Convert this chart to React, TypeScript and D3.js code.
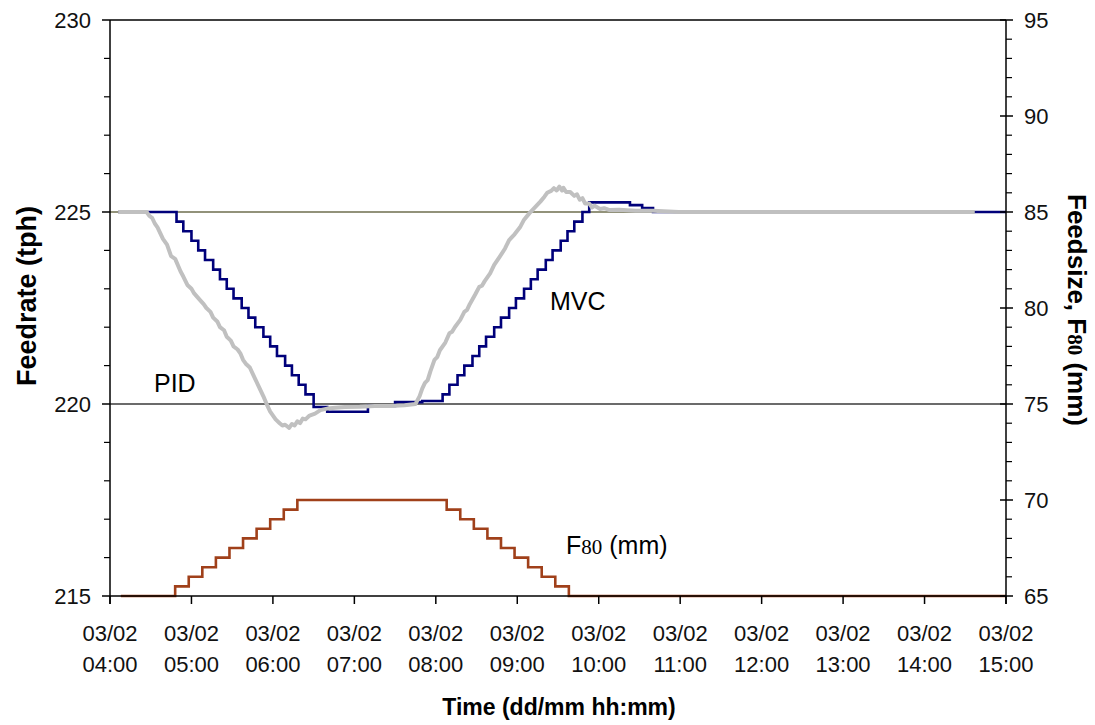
import React from 'react';
import * as d3 from 'd3';

const W = 1095;
const H = 725;
const PLOT = { left: 110, right: 1006, top: 20, bottom: 596 };

const DAY = '2000-02-03';

// x-axis ticks (hours, dd/mm hh:mm)
const xTickTimes = ['04:00', '05:00', '06:00', '07:00', '08:00', '09:00', '10:00', '11:00', '12:00', '13:00', '14:00', '15:00'];
const leftMajorTicks = [215, 220, 225, 230];
const leftMinorTicks = [216, 217, 218, 219, 221, 222, 223, 224, 226, 227, 228, 229];
const rightMajorTicks = [65, 70, 75, 80, 85, 90, 95];
const rightMinorTicks = [66, 67, 68, 69, 71, 72, 73, 74, 76, 77, 78, 79, 81, 82, 83, 84, 86, 87, 88, 89, 91, 92, 93, 94];
const gridValues = [220, 225];

// F80 feed size (mm), stepped
const f80Times = ['04:08', '04:48', '04:58', '05:08', '05:18', '05:28', '05:38', '05:48', '05:58', '06:08', '06:18',
  '08:08', '08:18', '08:28', '08:38', '08:48', '08:58', '09:08', '09:18', '09:28', '09:38', '15:00'];
const f80Values = [65, 65.5, 66, 66.5, 67, 67.5, 68, 68.5, 69, 69.5, 70,
  69.5, 69, 68.5, 68, 67.5, 67, 66.5, 66, 65.5, 65, 65];

// MVC feedrate (tph), stepped
const mvcTimes = ['04:06', '04:49', '04:54', '05:00', '05:05', '05:10', '05:16', '05:21', '05:26', '05:31', '05:37',
  '05:42', '05:47', '05:53', '05:58', '06:03', '06:09', '06:14', '06:19', '06:24', '06:30',
  '06:40', '07:10', '07:30', '07:50',
  '08:05', '08:10', '08:16', '08:21', '08:27', '08:32', '08:37', '08:43', '08:48', '08:54', '08:59',
  '09:05', '09:10', '09:15', '09:21', '09:26', '09:32', '09:37', '09:42', '09:48',
  '09:53', '10:23', '10:32', '10:40', '15:00'];
const mvcValues = [225, 224.75, 224.5, 224.25, 224, 223.75, 223.5, 223.25, 223, 222.75, 222.5,
  222.25, 222, 221.75, 221.5, 221.25, 221, 220.75, 220.5, 220.25, 219.92,
  219.8, 219.95, 220.05, 220.08,
  220.25, 220.5, 220.75, 221, 221.25, 221.5, 221.75, 222, 222.25, 222.5, 222.75,
  223, 223.25, 223.5, 223.75, 224, 224.25, 224.5, 224.75, 225,
  225.25, 225.18, 225.1, 225, 225];

// PID feedrate (tph)
const pidTimes = ['04:06', '04:27', '04:29', '04:31', '04:33', '04:35', '04:37', '04:39', '04:42', '04:45', '04:48', '04:52', '04:54',
  '04:57', '05:00', '05:02', '05:06', '05:09', '05:11', '05:14', '05:16', '05:19', '05:21', '05:24', '05:26', '05:29', '05:31',
  '05:34', '05:36', '05:38', '05:40', '05:43', '05:45', '05:47', '05:49',
  '05:53', '05:56', '05:58', '06:02', '06:05', '06:07', '06:09', '06:12', '06:14', '06:16', '06:18', '06:20', '06:22', '06:24', '06:27', '06:31',
  '06:35', '06:40', '06:46', '06:53', '07:04', '07:15', '07:26', '07:37', '07:45', '07:48', '07:50', '07:52', '07:54', '07:56',
  '07:59', '08:01', '08:03', '08:07', '08:10', '08:12', '08:14', '08:18', '08:21', '08:23', '08:25', '08:29', '08:32', '08:34', '08:36', '08:40',
  '08:43', '08:47', '08:51', '08:54', '08:58', '09:02', '09:05', '09:09', '09:13', '09:17', '09:20', '09:22',
  '09:25', '09:27', '09:29', '09:31', '09:33', '09:34', '09:36', '09:39', '09:42', '09:44', '09:46', '09:48', '09:50', '09:53', '09:55', '09:57', '10:01',
  '10:04', '10:08', '10:15', '10:27', '10:40', '10:59', '14:37'];
const pidValues = [225, 225, 224.9, 224.85, 224.7, 224.6, 224.45, 224.3, 224.15, 223.85, 223.78, 223.45, 223.32,
  223.1, 223.0, 222.88, 222.72, 222.6, 222.5, 222.4, 222.25, 222.15, 222.0, 221.92, 221.75, 221.65, 221.5,
  221.42, 221.32, 221.15, 221.05, 220.95, 220.8, 220.65, 220.5,
  220.2, 219.95, 219.8, 219.6, 219.5, 219.44, 219.46, 219.38, 219.48, 219.44, 219.55, 219.5, 219.62, 219.6, 219.7, 219.75,
  219.84, 219.88, 219.9, 219.92, 219.93, 219.95, 219.95, 219.97, 220.0, 220.2, 220.4, 220.55, 220.62, 220.85,
  221.15, 221.22, 221.4, 221.6, 221.84, 221.88, 222.0, 222.19, 222.4, 222.45, 222.6, 222.85, 223.05, 223.08, 223.2, 223.4,
  223.62, 223.83, 224.05, 224.27, 224.42, 224.6, 224.8, 224.97, 225.12, 225.27, 225.4, 225.5,
  225.55, 225.62, 225.56, 225.66, 225.56, 225.63, 225.52, 225.52, 225.42, 225.46, 225.32, 225.36, 225.22, 225.22, 225.12, 225.16, 225.08,
  225.1, 225.05, 225.06, 225.03, 225.03, 225.0, 225.0];

const parse = d3.timeParse('%Y-%m-%d %H:%M');
const t = (s: string) => parse(`${DAY} ${s}`) as Date;

const x = d3.scaleTime().domain([t('04:00'), t('15:00')]).range([PLOT.left, PLOT.right]);
const yL = d3.scaleLinear().domain([215, 230]).range([PLOT.bottom, PLOT.top]);
const yR = d3.scaleLinear().domain([65, 95]).range([PLOT.bottom, PLOT.top]);

const fmtDate = d3.timeFormat('%d/%m');
const fmtTime = d3.timeFormat('%H:%M');

type P = [Date, number];
const zip = (ts: string[], vs: number[]): P[] => ts.map((s, i) => [t(s), vs[i]]);

const stepL = d3.line<P>().x(d => x(d[0])).y(d => yL(d[1])).curve(d3.curveStepAfter);
const stepR = d3.line<P>().x(d => x(d[0])).y(d => yR(d[1])).curve(d3.curveStepAfter);
const lineL = d3.line<P>().x(d => x(d[0])).y(d => yL(d[1]));

const FONT = '"Liberation Sans", Arial, sans-serif';

export default function App() {
  const f80 = zip(f80Times, f80Values);
  const mvc = zip(mvcTimes, mvcValues);
  const pid = zip(pidTimes, pidValues);

  return (
    <svg width={W} height={H} style={{ position: 'absolute', left: 0, top: 0, background: '#fff' }} fontFamily={FONT}>
      <rect x={0} y={0} width={W} height={H} fill="#fff" />
      {/* gridlines */}
      {gridValues.map(v => (
        <line key={v} x1={PLOT.left} x2={PLOT.right} y1={yL(v)} y2={yL(v)}
          stroke={v === 225 ? '#6e6e4e' : '#3a3a3a'} strokeWidth={1.5} />
      ))}
      {/* top border */}
      <line x1={PLOT.left} x2={PLOT.right} y1={PLOT.top} y2={PLOT.top} stroke="#000" strokeWidth={1.5} />

      {/* series */}
      <path d={stepR(f80) || ''} fill="none" stroke="#a0401a" strokeWidth={2.6} />
      <path d={stepL(mvc) || ''} fill="none" stroke="#00007a" strokeWidth={2.6} />
      <path d={lineL(pid) || ''} fill="none" stroke="#c0c0c0" strokeWidth={4} strokeLinejoin="round" />

      {/* left axis */}
      <line x1={PLOT.left} x2={PLOT.left} y1={PLOT.top} y2={PLOT.bottom + 8} stroke="#000" strokeWidth={1.5} />
      {leftMajorTicks.map(v => (
        <g key={v}>
          <line x1={PLOT.left - 8} x2={PLOT.left} y1={yL(v)} y2={yL(v)} stroke="#000" strokeWidth={1.5} />
          <text x={PLOT.left - 19} y={yL(v)} dy="0.36em" textAnchor="end" fontSize={22} fill="#111">{v}</text>
        </g>
      ))}
      {leftMinorTicks.map(v => (
        <line key={v} x1={PLOT.left - 6} x2={PLOT.left} y1={yL(v)} y2={yL(v)} stroke="#000" strokeWidth={1.2} />
      ))}

      {/* right axis */}
      <line x1={PLOT.right} x2={PLOT.right} y1={PLOT.top} y2={PLOT.bottom + 8} stroke="#000" strokeWidth={1.5} />
      {rightMajorTicks.map(v => (
        <g key={v}>
          <line x1={PLOT.right - 6} x2={PLOT.right + 7} y1={yR(v)} y2={yR(v)} stroke="#000" strokeWidth={1.5} />
          <text x={PLOT.right + 18} y={yR(v)} dy="0.36em" textAnchor="start" fontSize={22} fill="#111">{v}</text>
        </g>
      ))}
      {rightMinorTicks.map(v => (
        <line key={v} x1={PLOT.right} x2={PLOT.right + 6} y1={yR(v)} y2={yR(v)} stroke="#000" strokeWidth={1.2} />
      ))}

      {/* bottom axis */}
      <line x1={PLOT.left} x2={PLOT.right} y1={PLOT.bottom} y2={PLOT.bottom} stroke="#000" strokeWidth={1.5} />
      {xTickTimes.map(s => {
        const d = t(s);
        const xx = x(d);
        return (
          <g key={s}>
            <line x1={xx} x2={xx} y1={PLOT.bottom} y2={PLOT.bottom + 8} stroke="#000" strokeWidth={1.5} />
            <text x={xx} y={641} textAnchor="middle" fontSize={22} fill="#111">{fmtDate(d)}</text>
            <text x={xx} y={672} textAnchor="middle" fontSize={22} fill="#111">{fmtTime(d)}</text>
          </g>
        );
      })}

      {/* axis titles */}
      <text x={559} y={715} textAnchor="middle" fontSize={23} fontWeight="bold" fill="#000">Time (dd/mm hh:mm)</text>
      <text transform={`translate(36,${296}) rotate(-90)`} textAnchor="middle" fontSize={27} fontWeight="bold" fill="#000">Feedrate (tph)</text>
      <text transform={`translate(1068,${310}) rotate(90)`} textAnchor="middle" fontSize={26} fontWeight="bold" fill="#000">
        Feedsize, F<tspan fontSize={21} fontFamily='"Liberation Serif", serif'>80</tspan> (mm)
      </text>

      {/* series labels */}
      <text x={154} y={392} fontSize={25} fill="#000">PID</text>
      <text x={550} y={310} fontSize={25} fill="#000">MVC</text>
      <text x={566} y={554} fontSize={25} fill="#000">F<tspan fontSize={21} fontFamily='"Liberation Serif", serif'>80</tspan> (mm)</text>
    </svg>
  );
}
